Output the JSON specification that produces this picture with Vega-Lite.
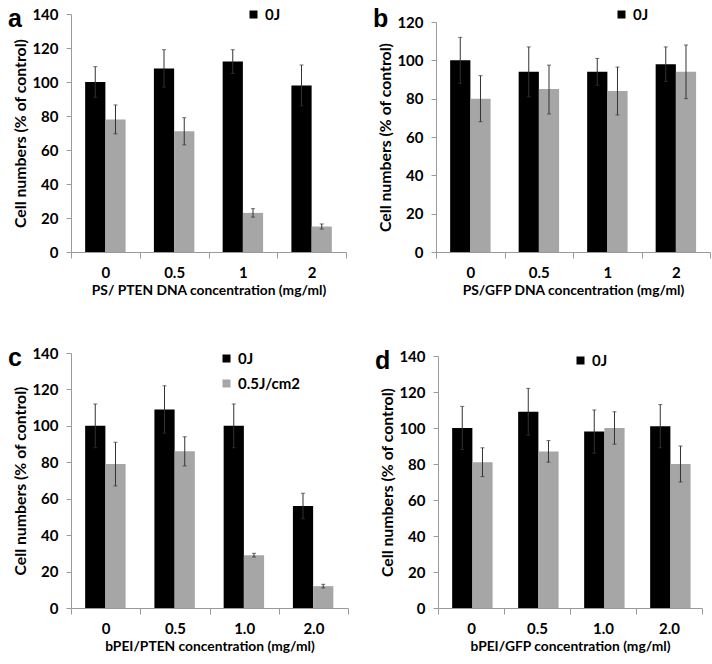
{
  "$schema": "https://vega.github.io/schema/vega-lite/v6.json",
  "background": "white",
  "padding": {"left": 7, "top": 7, "right": 2, "bottom": 2},
  "config": {
    "font": "Lato",
    "view": {"stroke": null},
    "axis": {
      "labelFont": "Lato", "labelFontWeight": "bold", "labelFontSize": 15, "labelColor": "#000",
      "titleFont": "Lato", "titleFontWeight": "bold", "titleFontSize": 14.5, "titleColor": "#000",
      "domainColor": "#9a9a9a", "tickColor": "#9a9a9a", "grid": false, "labelOverlap": false
    },
    "axisX": {"titleFontSize": 13.8, "labelPadding": 7, "titlePadding": 3, "tickSize": 6},
    "axisY": {"titleFontSize": 15.8, "labelPadding": 8, "titlePadding": 3, "tickSize": 5},
    "legend": {
      "labelFont": "Lato", "labelFontWeight": "bold", "labelFontSize": 15, "labelColor": "#000",
      "symbolType": "square", "symbolSize": 64, "symbolStrokeWidth": 0, "symbolOpacity": 1
    },
    "title": {"font": "Liberation Sans", "fontWeight": "bold", "fontSize": 25, "color": "#000", "anchor": "start", "frame": "bounds", "dx": -5}
  },
  "data": {
    "values": [
      {"panel": "a", "conc": "0", "series": "0J", "value": 100, "lo": 91, "hi": 109},
      {"panel": "a", "conc": "0", "series": "0.5J/cm2", "value": 78, "lo": 69.5, "hi": 86.5},
      {"panel": "a", "conc": "0.5", "series": "0J", "value": 108, "lo": 97, "hi": 119},
      {"panel": "a", "conc": "0.5", "series": "0.5J/cm2", "value": 71, "lo": 63, "hi": 79},
      {"panel": "a", "conc": "1", "series": "0J", "value": 112, "lo": 105, "hi": 119},
      {"panel": "a", "conc": "1", "series": "0.5J/cm2", "value": 23, "lo": 20.5, "hi": 25.5},
      {"panel": "a", "conc": "2", "series": "0J", "value": 98, "lo": 86, "hi": 110},
      {"panel": "a", "conc": "2", "series": "0.5J/cm2", "value": 15, "lo": 13.5, "hi": 16.5},

      {"panel": "b", "conc": "0", "series": "0J", "value": 100, "lo": 88, "hi": 112},
      {"panel": "b", "conc": "0", "series": "0.5J/cm2", "value": 80, "lo": 68, "hi": 92},
      {"panel": "b", "conc": "0.5", "series": "0J", "value": 94, "lo": 81, "hi": 107},
      {"panel": "b", "conc": "0.5", "series": "0.5J/cm2", "value": 85, "lo": 72, "hi": 97.5},
      {"panel": "b", "conc": "1", "series": "0J", "value": 94, "lo": 87, "hi": 101},
      {"panel": "b", "conc": "1", "series": "0.5J/cm2", "value": 84, "lo": 71.5, "hi": 96.5},
      {"panel": "b", "conc": "2", "series": "0J", "value": 98, "lo": 89, "hi": 107},
      {"panel": "b", "conc": "2", "series": "0.5J/cm2", "value": 94, "lo": 80, "hi": 108},

      {"panel": "c", "conc": "0", "series": "0J", "value": 100, "lo": 88, "hi": 112},
      {"panel": "c", "conc": "0", "series": "0.5J/cm2", "value": 79, "lo": 67, "hi": 91},
      {"panel": "c", "conc": "0.5", "series": "0J", "value": 109, "lo": 96, "hi": 122},
      {"panel": "c", "conc": "0.5", "series": "0.5J/cm2", "value": 86, "lo": 78, "hi": 94},
      {"panel": "c", "conc": "1.0", "series": "0J", "value": 100, "lo": 88, "hi": 112},
      {"panel": "c", "conc": "1.0", "series": "0.5J/cm2", "value": 29, "lo": 28, "hi": 30},
      {"panel": "c", "conc": "2.0", "series": "0J", "value": 56, "lo": 49, "hi": 63},
      {"panel": "c", "conc": "2.0", "series": "0.5J/cm2", "value": 12, "lo": 11, "hi": 13},

      {"panel": "d", "conc": "0", "series": "0J", "value": 100, "lo": 88, "hi": 112},
      {"panel": "d", "conc": "0", "series": "0.5J/cm2", "value": 81, "lo": 73, "hi": 89},
      {"panel": "d", "conc": "0.5", "series": "0J", "value": 109, "lo": 96, "hi": 122},
      {"panel": "d", "conc": "0.5", "series": "0.5J/cm2", "value": 87, "lo": 81, "hi": 93},
      {"panel": "d", "conc": "1.0", "series": "0J", "value": 98, "lo": 86, "hi": 110},
      {"panel": "d", "conc": "1.0", "series": "0.5J/cm2", "value": 100, "lo": 91, "hi": 109},
      {"panel": "d", "conc": "2.0", "series": "0J", "value": 101, "lo": 89, "hi": 113},
      {"panel": "d", "conc": "2.0", "series": "0.5J/cm2", "value": 80, "lo": 70, "hi": 90}
    ]
  },
  "spacing": 49,
  "resolve": {"scale": {"color": "independent"}, "legend": {"color": "independent"}},
  "vconcat": [
    {
      "spacing": 25,
      "resolve": {"scale": {"color": "independent"}, "legend": {"color": "independent"}},
      "hconcat": [
        {
          "width": 275, "height": 238,
          "title": {"text": "a", "offset": -25},
          "transform": [{"filter": "datum.panel === 'a'"}],
          "encoding": {
            "x": {"field": "conc", "type": "nominal", "sort": null, "scale": {"paddingInner": 0, "paddingOuter": 0},
                  "axis": {"title": "PS/ PTEN DNA concentration (mg/ml)", "labelAngle": 0, "tickBand": "extent"}},
            "xOffset": {"field": "series", "type": "nominal", "sort": ["0J", "0.5J/cm2"], "scale": {"domain": ["0J", "0.5J/cm2"], "paddingInner": 0, "paddingOuter": 0.7}}
          },
          "layer": [
            {"mark": {"type": "bar"},
             "encoding": {
               "y": {"field": "value", "type": "quantitative", "scale": {"domain": [0, 140], "nice": false},
                     "axis": {"title": "Cell numbers (% of control)", "values": [0, 20, 40, 60, 80, 100, 120, 140]}},
               "color": {"field": "series", "type": "nominal", "scale": {"domain": ["0J", "0.5J/cm2"], "range": ["#000000", "#a6a6a6"]},
                         "legend": {"title": null, "values": ["0J"], "orient": "none", "legendX": 175, "legendY": -7}}
             }},
            {"mark": {"type": "rule", "color": "#333", "strokeWidth": 1},
             "encoding": {"y": {"field": "lo", "type": "quantitative", "axis": {"title": "Cell numbers (% of control)", "values": [0, 20, 40, 60, 80, 100, 120, 140]}}, "y2": {"field": "hi"}}},
            {"mark": {"type": "tick", "color": "#333", "thickness": 1, "size": 4},
             "encoding": {"y": {"field": "hi", "type": "quantitative", "axis": {"title": "Cell numbers (% of control)", "values": [0, 20, 40, 60, 80, 100, 120, 140]}}}},
            {"mark": {"type": "tick", "color": "#333", "thickness": 1, "size": 4},
             "encoding": {"y": {"field": "lo", "type": "quantitative", "axis": {"title": "Cell numbers (% of control)", "values": [0, 20, 40, 60, 80, 100, 120, 140]}}}}
          ]
        },
        {
          "width": 274, "height": 238,
          "title": {"text": "b", "offset": -25},
          "transform": [{"filter": "datum.panel === 'b'"}],
          "encoding": {
            "x": {"field": "conc", "type": "nominal", "sort": null, "scale": {"paddingInner": 0, "paddingOuter": 0},
                  "axis": {"title": "PS/GFP DNA concentration (mg/ml)", "labelAngle": 0, "tickBand": "extent"}},
            "xOffset": {"field": "series", "type": "nominal", "sort": ["0J", "0.5J/cm2"], "scale": {"domain": ["0J", "0.5J/cm2"], "paddingInner": 0, "paddingOuter": 0.7}}
          },
          "layer": [
            {"mark": {"type": "bar"},
             "encoding": {
               "y": {"field": "value", "type": "quantitative", "scale": {"domain": [0, 120], "nice": false, "range": [238, 8]},
                     "axis": {"title": "Cell numbers (% of control)", "values": [0, 20, 40, 60, 80, 100, 120]}},
               "color": {"field": "series", "type": "nominal", "scale": {"domain": ["0J", "0.5J/cm2"], "range": ["#000000", "#a6a6a6"]},
                         "legend": {"title": null, "values": ["0J"], "orient": "none", "legendX": 178, "legendY": -7}}
             }},
            {"mark": {"type": "rule", "color": "#333", "strokeWidth": 1},
             "encoding": {"y": {"field": "lo", "type": "quantitative", "axis": {"title": "Cell numbers (% of control)", "values": [0, 20, 40, 60, 80, 100, 120]}}, "y2": {"field": "hi"}}},
            {"mark": {"type": "tick", "color": "#333", "thickness": 1, "size": 4},
             "encoding": {"y": {"field": "hi", "type": "quantitative", "axis": {"title": "Cell numbers (% of control)", "values": [0, 20, 40, 60, 80, 100, 120]}}}},
            {"mark": {"type": "tick", "color": "#333", "thickness": 1, "size": 4},
             "encoding": {"y": {"field": "lo", "type": "quantitative", "axis": {"title": "Cell numbers (% of control)", "values": [0, 20, 40, 60, 80, 100, 120]}}}}
          ]
        }
      ]
    },
    {
      "spacing": 25,
      "resolve": {"scale": {"color": "independent"}, "legend": {"color": "independent"}},
      "hconcat": [
        {
          "width": 277, "height": 255,
          "title": {"text": "c", "offset": -25},
          "transform": [{"filter": "datum.panel === 'c'"}],
          "encoding": {
            "x": {"field": "conc", "type": "nominal", "sort": null, "scale": {"paddingInner": 0, "paddingOuter": 0},
                  "axis": {"title": "bPEI/PTEN concentration (mg/ml)", "labelAngle": 0, "tickBand": "extent"}},
            "xOffset": {"field": "series", "type": "nominal", "sort": ["0J", "0.5J/cm2"], "scale": {"domain": ["0J", "0.5J/cm2"], "paddingInner": 0, "paddingOuter": 0.7}}
          },
          "layer": [
            {"mark": {"type": "bar"},
             "encoding": {
               "y": {"field": "value", "type": "quantitative", "scale": {"domain": [0, 140], "nice": false},
                     "axis": {"title": "Cell numbers (% of control)", "values": [0, 20, 40, 60, 80, 100, 120, 140]}},
               "color": {"field": "series", "type": "nominal", "scale": {"domain": ["0J", "0.5J/cm2"], "range": ["#000000", "#a6a6a6"]},
                         "legend": {"title": null, "orient": "none", "legendX": 148, "legendY": -2, "rowPadding": 9}}
             }},
            {"mark": {"type": "rule", "color": "#333", "strokeWidth": 1},
             "encoding": {"y": {"field": "lo", "type": "quantitative", "axis": {"title": "Cell numbers (% of control)", "values": [0, 20, 40, 60, 80, 100, 120, 140]}}, "y2": {"field": "hi"}}},
            {"mark": {"type": "tick", "color": "#333", "thickness": 1, "size": 4},
             "encoding": {"y": {"field": "hi", "type": "quantitative", "axis": {"title": "Cell numbers (% of control)", "values": [0, 20, 40, 60, 80, 100, 120, 140]}}}},
            {"mark": {"type": "tick", "color": "#333", "thickness": 1, "size": 4},
             "encoding": {"y": {"field": "lo", "type": "quantitative", "axis": {"title": "Cell numbers (% of control)", "values": [0, 20, 40, 60, 80, 100, 120, 140]}}}}
          ]
        },
        {
          "width": 264, "height": 255,
          "title": {"text": "d", "offset": -25},
          "transform": [{"filter": "datum.panel === 'd'"}],
          "encoding": {
            "x": {"field": "conc", "type": "nominal", "sort": null, "scale": {"paddingInner": 0, "paddingOuter": 0},
                  "axis": {"title": "bPEI/GFP concentration (mg/ml)", "labelAngle": 0, "tickBand": "extent"}},
            "xOffset": {"field": "series", "type": "nominal", "sort": ["0J", "0.5J/cm2"], "scale": {"domain": ["0J", "0.5J/cm2"], "paddingInner": 0, "paddingOuter": 0.7}}
          },
          "layer": [
            {"mark": {"type": "bar"},
             "encoding": {
               "y": {"field": "value", "type": "quantitative", "scale": {"domain": [0, 140], "nice": false, "range": [255, 3]},
                     "axis": {"title": "Cell numbers (% of  control)", "values": [0, 20, 40, 60, 80, 100, 120, 140]}},
               "color": {"field": "series", "type": "nominal", "scale": {"domain": ["0J", "0.5J/cm2"], "range": ["#000000", "#a6a6a6"]},
                         "legend": {"title": null, "values": ["0J"], "orient": "none", "legendX": 135, "legendY": 0}}
             }},
            {"mark": {"type": "rule", "color": "#333", "strokeWidth": 1},
             "encoding": {"y": {"field": "lo", "type": "quantitative", "axis": {"title": "Cell numbers (% of  control)", "values": [0, 20, 40, 60, 80, 100, 120, 140]}}, "y2": {"field": "hi"}}},
            {"mark": {"type": "tick", "color": "#333", "thickness": 1, "size": 4},
             "encoding": {"y": {"field": "hi", "type": "quantitative", "axis": {"title": "Cell numbers (% of  control)", "values": [0, 20, 40, 60, 80, 100, 120, 140]}}}},
            {"mark": {"type": "tick", "color": "#333", "thickness": 1, "size": 4},
             "encoding": {"y": {"field": "lo", "type": "quantitative", "axis": {"title": "Cell numbers (% of  control)", "values": [0, 20, 40, 60, 80, 100, 120, 140]}}}}
          ]
        }
      ]
    }
  ]
}
